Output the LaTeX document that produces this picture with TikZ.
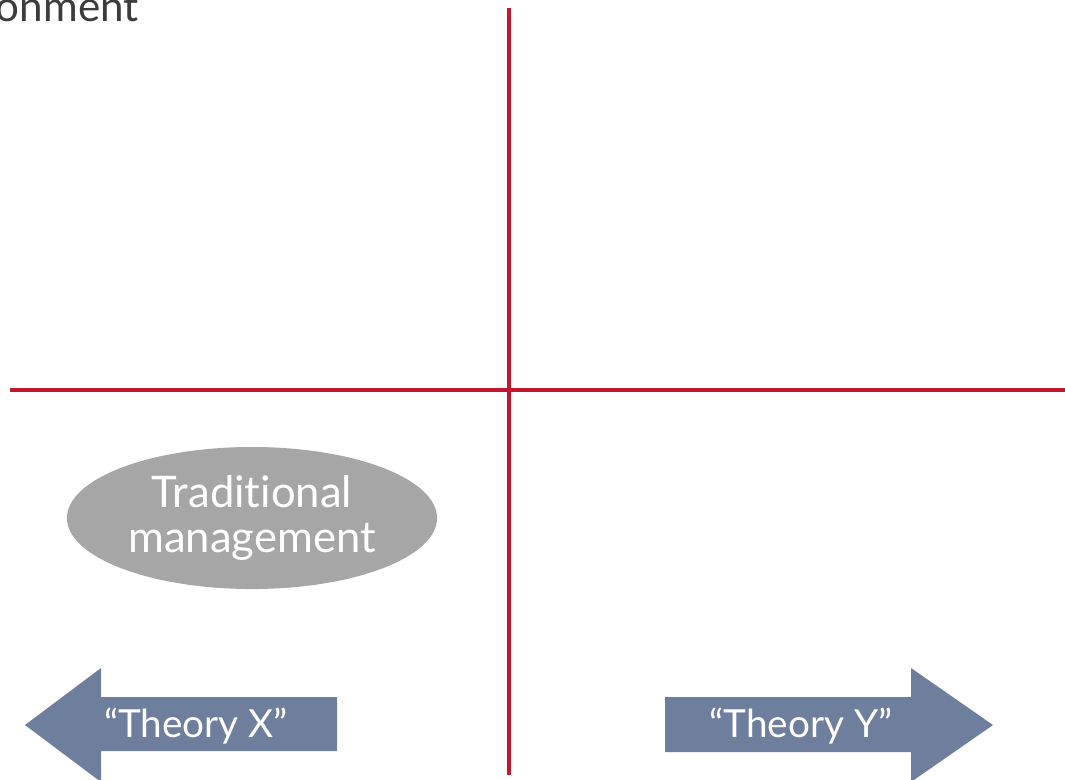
\documentclass[tikz,border=0pt]{standalone}
\usepackage{fontspec}
\setmainfont{Lato}[Ligatures=NoCommon]
\usepackage{tikz}
\usetikzlibrary{
  shapes.geometric,
  positioning
}
\usepackage{xcolor}
\definecolor{axisred}{RGB}{192,22,48}
\definecolor{ovalgray}{RGB}{166,166,166}
\definecolor{arrowblue}{RGB}{110,126,157}
\definecolor{txtgray}{RGB}{60,60,60}
\tikzset{
  axisline/.style={
    draw=axisred, line width=2.9pt
  },
  oval/.style={
    ellipse, fill=ovalgray, inner sep=0pt,
    minimum width=9.25cm, minimum height=3.55cm,
    text=white, align=center,
    font=\fontsize{31}{32}\selectfont
  },
  bigarrow/.style={
    fill=arrowblue, draw=none
  },
  arrowtext/.style={
    text=white, inner sep=0pt, anchor=base,
    font=\fontsize{27.5}{30}\selectfont
  }
}

\begin{document}
\begin{tikzpicture}[x=0.025cm, y=-0.025cm]

    \useasboundingbox (0,0) rectangle (1065,779);

    %% ---- title, cut off at the top ---------------------------------
    \node[anchor=base east, inner sep=0pt, text=txtgray,
          font=\fontsize{30}{32}\selectfont]
      (title) at (139,21) {onment};

    %% ---- axes --------------------------------------------------------
    \coordinate (vtop) at (509,8);
    \coordinate (vbot) at (509,775);
    \coordinate (hleft) at (10,390);
    \coordinate (hright) at (1065,390);
    \draw[axisline] (vtop) -- (vbot);
    \draw[axisline] (hleft) -- (hright);

    %% ---- quadrant oval -----------------------------------------------
    \node[oval] (trad) at (252,518) {Traditional\\management};

    %% ---- direction arrows --------------------------------------------
    \fill[bigarrow] (25,725) -- (101,668) -- (101,697) -- (337,697)
      -- (337,751) -- (101,751) -- (101,782) -- cycle;
    \node[arrowtext] (thx) at (196,737) {``Theory X''};

    \fill[bigarrow] (993,725) -- (911,668) -- (911,697) -- (665,697)
      -- (665,752) -- (911,752) -- (911,782) -- cycle;
    \node[arrowtext] (thy) at (801,737) {``Theory Y''};

\end{tikzpicture}
\end{document}
